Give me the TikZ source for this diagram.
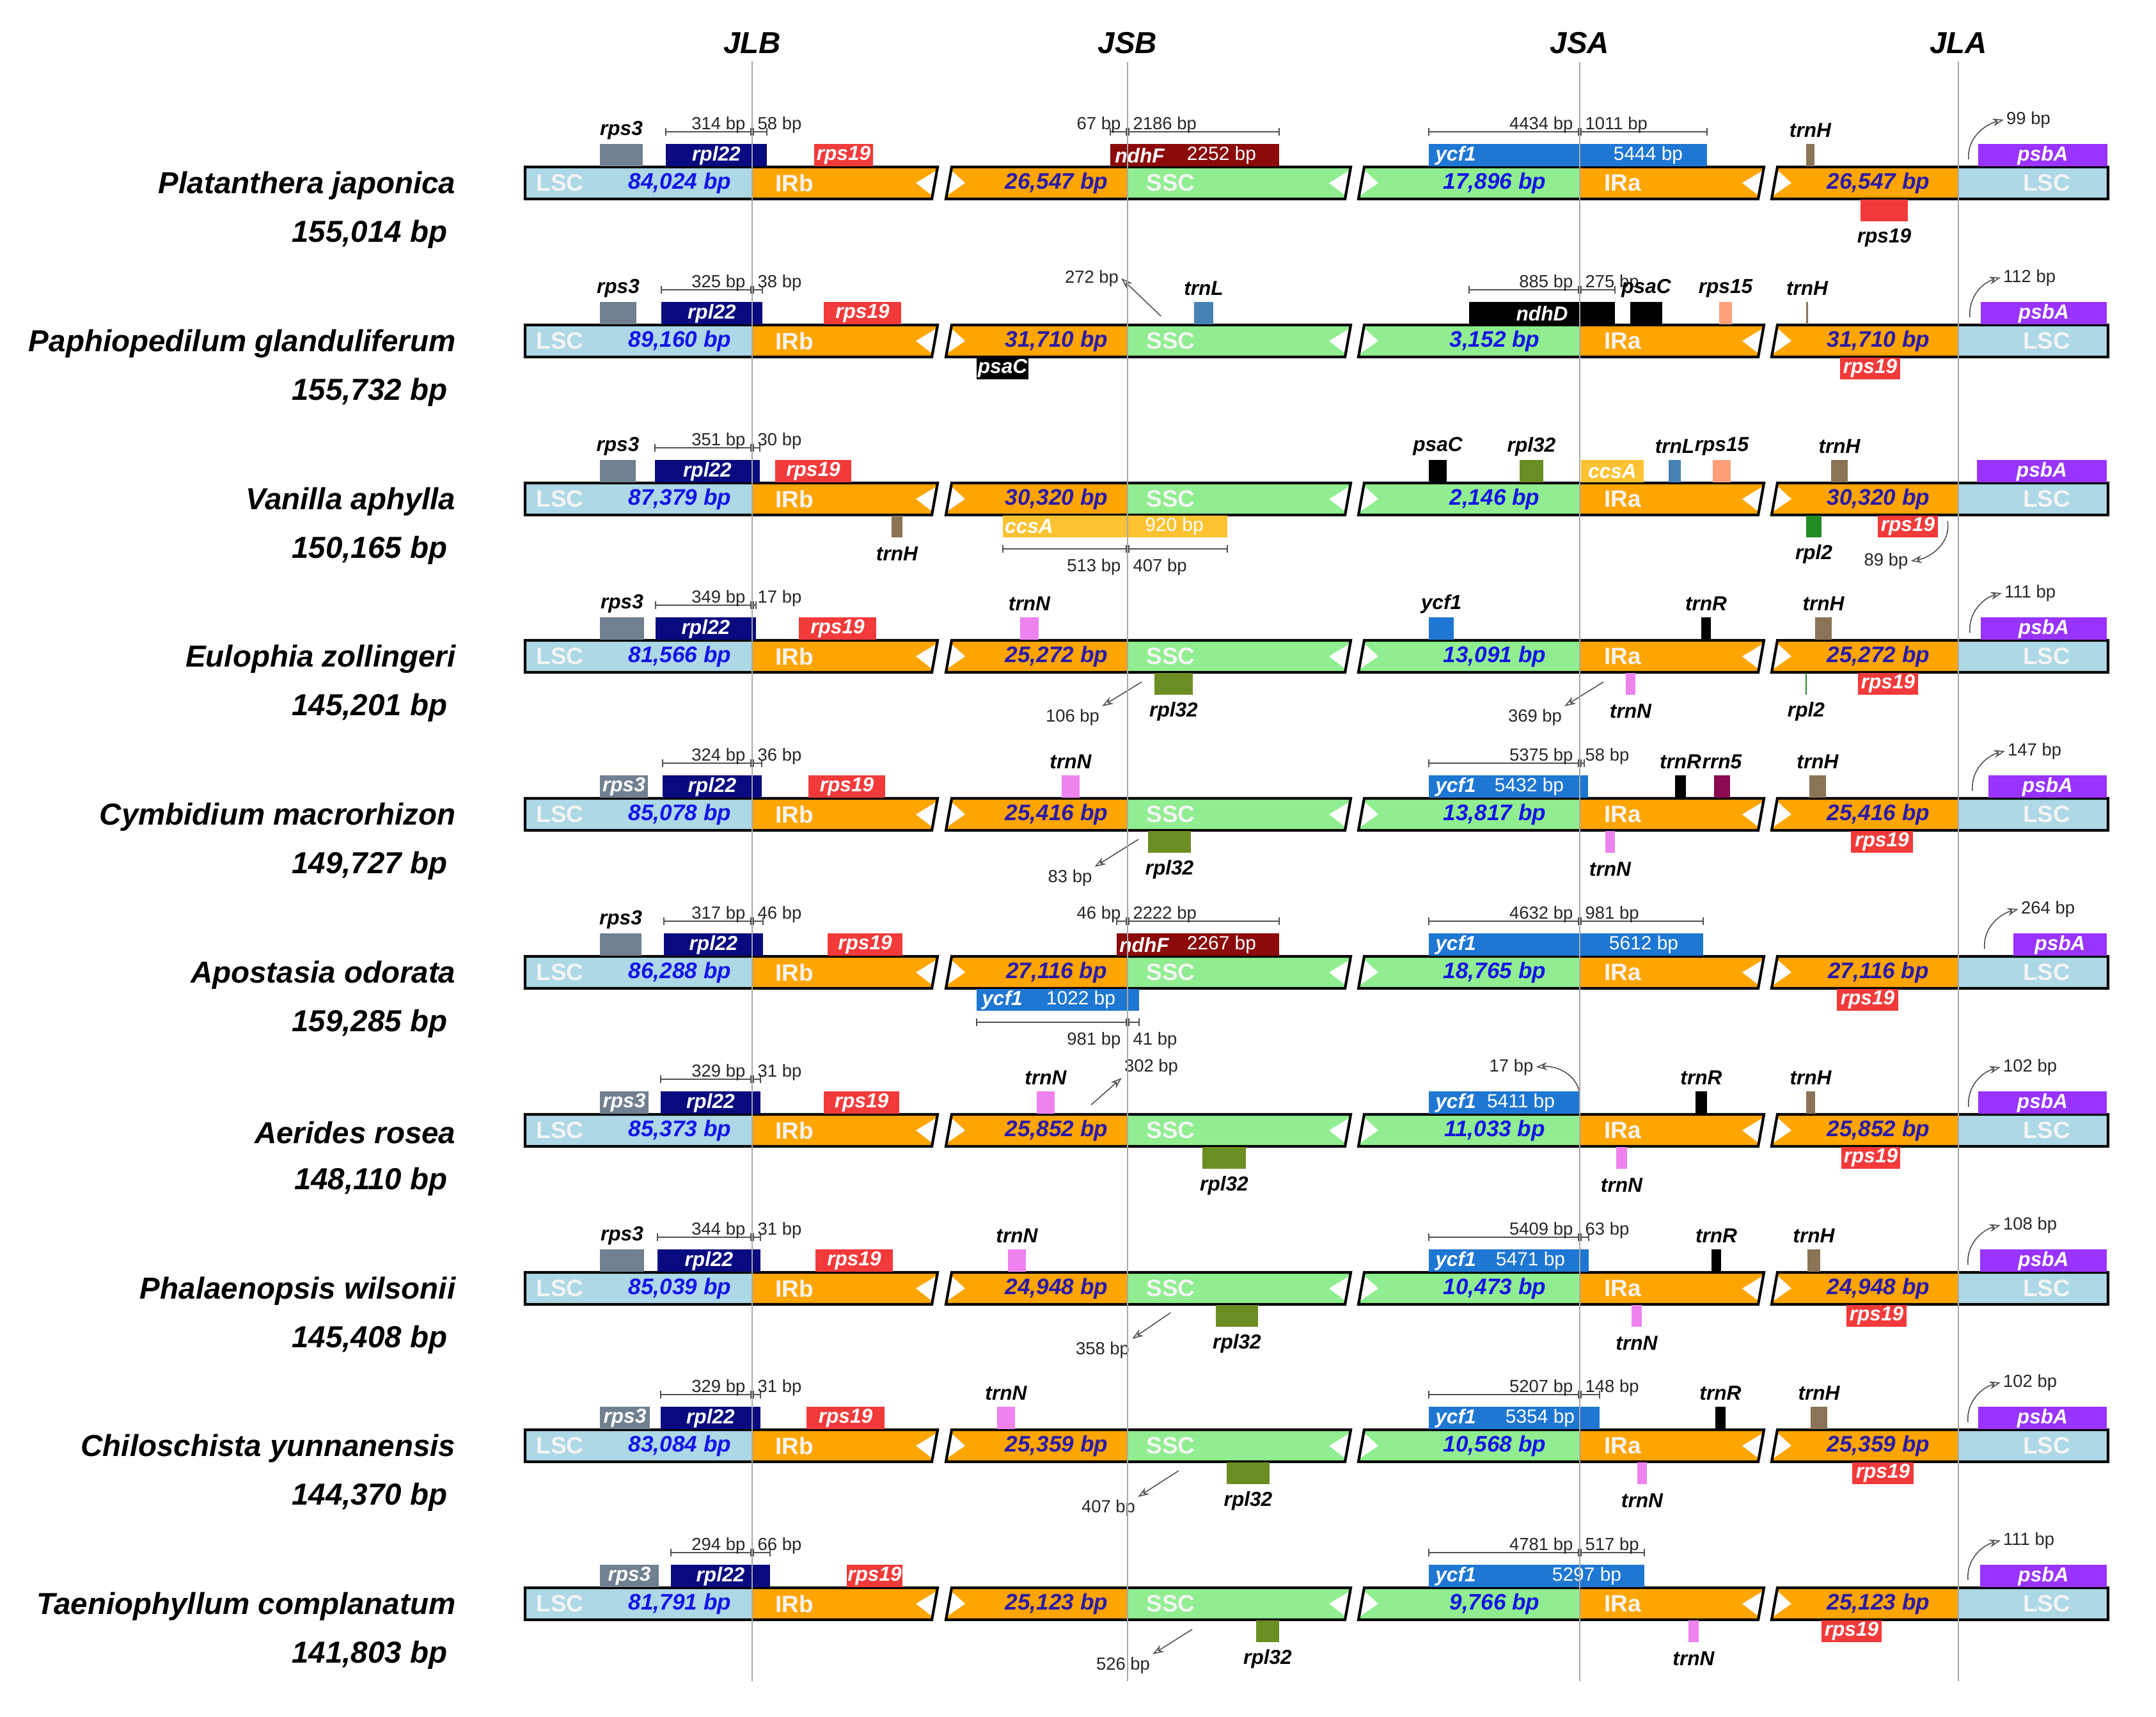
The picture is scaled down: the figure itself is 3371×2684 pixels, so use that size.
\documentclass[tikz,border=0pt]{standalone}
\usepackage{fontspec}
\setmainfont{Liberation Sans}
\usetikzlibrary{arrows.meta}

\definecolor{lscblue}{HTML}{ADD8E6}
\definecolor{irorange}{HTML}{FFA500}
\definecolor{sscgreen}{HTML}{90EE90}
\definecolor{bpblue}{HTML}{1414E6}
\definecolor{bpdark}{HTML}{2A1AA8}
\definecolor{regtext}{HTML}{F4F4F4}
\definecolor{guide}{HTML}{A8A8A8}
\definecolor{rpsthree}{HTML}{708090}
\definecolor{rpltt}{HTML}{0A0A80}
\definecolor{rpsnt}{HTML}{F23A3A}
\definecolor{ndhf}{HTML}{8B0A0A}
\definecolor{ycfone}{HTML}{1E77D3}
\definecolor{psba}{HTML}{9933FF}
\definecolor{trnh}{HTML}{8B7355}
\definecolor{trnl}{HTML}{4682B4}
\definecolor{rpsff}{HTML}{FFA07A}
\definecolor{ccsa}{HTML}{FCC232}
\definecolor{rplttwo}{HTML}{6B8E23}
\definecolor{rpltwo}{HTML}{228B22}
\definecolor{trnn}{HTML}{EE82EE}
\definecolor{rrnfive}{HTML}{8B0A50}
\definecolor{measure}{HTML}{505050}

\tikzset{
  regname/.style={font=\bfseries\fontsize{10.5}{12}\selectfont, text=regtext, inner sep=0pt},
  bplen/.style={font=\bfseries\itshape\fontsize{10}{12}\selectfont, inner sep=0pt},
  genelbl/.style={font=\bfseries\itshape\fontsize{9}{10}\selectfont, inner sep=0pt},
  geneinner/.style={genelbl, text=white},
  sizelbl/.style={font=\fontsize{7.8}{9}\selectfont, text=black!85, inner sep=0pt},
  ptrlbl/.style={sizelbl, inner sep=1pt},
  boxbp/.style={font=\fontsize{8.5}{10}\selectfont, text=white, inner sep=0pt},
  species/.style={font=\bfseries\itshape\fontsize{13.5}{16}\selectfont, anchor=east, inner sep=0pt},
  junction/.style={species, anchor=center},
  guideline/.style={guide, line width=0.6pt, shorten <=0.12cm},
  dimline/.style={measure, line width=0.45pt},
  pointer/.style={measure, line width=0.45pt, -{Stealth[open,length=5pt,width=3.5pt]}},
  outline/.style={draw=black, line width=1.2pt}
}

\newcommand{\orchidrow}[7]{%
  \fill[lscblue] (821,#2-25) rectangle (1176,#2+25);
  \fill[irorange] (1176,#2-25) -- (1466,#2-25) -- (1457,#2+25) -- (1176,#2+25) -- cycle;
  \fill[irorange] (1488,#2-25) -- (1763,#2-25) -- (1763,#2+25) -- (1479,#2+25) -- cycle;
  \fill[sscgreen] (1763,#2-25) -- (2112,#2-25) -- (2103,#2+25) -- (1763,#2+25) -- cycle;
  \fill[sscgreen] (2133,#2-25) -- (2470,#2-25) -- (2470,#2+25) -- (2124,#2+25) -- cycle;
  \fill[irorange] (2470,#2-25) -- (2758,#2-25) -- (2749,#2+25) -- (2470,#2+25) -- cycle;
  \fill[irorange] (2779,#2-25) -- (3062,#2-25) -- (3062,#2+25) -- (2770,#2+25) -- cycle;
  \fill[lscblue] (3062,#2-25) rectangle (3296,#2+25);
  \foreach \bx in {1466,2112,2758} {
    \fill[white] (\bx-34,#2) -- (\bx-1,#2-20) -- (\bx-8,#2+20) -- cycle;
    \fill[white] (\bx+43,#2) -- (\bx+21,#2-20) -- (\bx+14,#2+20) -- cycle;
  }
  \draw[outline] (821,#2-25) -- (1466,#2-25) -- (1457,#2+25) -- (821,#2+25) -- cycle;
  \draw[outline] (1488,#2-25) -- (2112,#2-25) -- (2103,#2+25) -- (1479,#2+25) -- cycle;
  \draw[outline] (2133,#2-25) -- (2758,#2-25) -- (2749,#2+25) -- (2124,#2+25) -- cycle;
  \draw[outline] (2779,#2-25) -- (3296,#2-25) -- (3296,#2+25) -- (2770,#2+25) -- cycle;
  \node[regname, anchor=west] (#1-lsc) at (838,#2) {LSC};
  \node[bplen, text=bpblue] (#1-lsclen) at (1063,#2) {#5 bp};
  \node[regname, anchor=west] (#1-irb) at (1212,#2) {IRb};
  \node[bplen, text=bpdark] (#1-irblen) at (1652,#2) {#6 bp};
  \node[regname, anchor=west] (#1-ssc) at (1792,#2) {SSC};
  \node[bplen, text=bpblue] (#1-ssclen) at (2337,#2) {#7 bp};
  \node[regname, anchor=west] (#1-ira) at (2508,#2) {IRa};
  \node[bplen, text=bpdark] (#1-iralen) at (2937,#2) {#6 bp};
  \node[regname] (#1-lscb) at (3200,#2) {LSC};
  \node[species] (#1-name) at (713,#2+4) {#3};
  \node[species] (#1-size) at (700,#2+80) {#4 bp};
}

\newcommand{\geneup}[6]{%
  \fill[#5] (#3,#2-61) rectangle (#4,#2-26);
  \node[genelbl] (#1) at ({(#3+#4)/2},#2-82) {#6};}
\newcommand{\geneupin}[6]{%
  \fill[#5] (#3,#2-61) rectangle (#4,#2-26);
  \node[geneinner] (#1) at ({(#3+#4)/2},#2-43) {#6};}
\newcommand{\genedown}[6]{%
  \fill[#5] (#3,#2+26) rectangle (#4,#2+60);
  \node[genelbl] (#1) at ({(#3+#4)/2},#2+86) {#6};}
\newcommand{\genedownin}[6]{%
  \fill[#5] (#3,#2+26) rectangle (#4,#2+60);
  \node[geneinner] (#1) at ({(#3+#4)/2},#2+43) {#6};}
\newcommand{\genelongup}[9]{%
  \fill[#5] (#3,#2-61) rectangle (#4,#2-26);
  \node[geneinner] (#1) at (#7,#2-43) {#6};
  \node[boxbp] (#1-bp) at (#9,#2-43) {#8};}
\newcommand{\genelongdown}[9]{%
  \fill[#5] (#3,#2+26) rectangle (#4,#2+60);
  \node[geneinner] (#1) at (#7,#2+43) {#6};
  \node[boxbp] (#1-bp) at (#9,#2+43) {#8};}

\newcommand{\bpmarkup}[7]{%
  \draw[dimline] (#3,#2-80) -- (#4,#2-80);
  \draw[dimline] (#3,#2-86) -- (#3,#2-74) (#4,#2-86) -- (#4,#2-74)
    (#5-2,#2-86) -- (#5-2,#2-74) (#5+2,#2-86) -- (#5+2,#2-74);
  \node[sizelbl, anchor=base east] (#1-left) at (#5-10,#2-84) {#6};
  \node[sizelbl, anchor=base west] (#1-right) at (#5+8,#2-84) {#7};}
\newcommand{\bpmarkdown}[7]{%
  \draw[dimline] (#3,#2+78) -- (#4,#2+78);
  \draw[dimline] (#3,#2+72) -- (#3,#2+84) (#4,#2+72) -- (#4,#2+84)
    (#5-2,#2+72) -- (#5-2,#2+84) (#5+2,#2+72) -- (#5+2,#2+84);
  \node[sizelbl, anchor=base east] (#1-left) at (#5-10,#2+113) {#6};
  \node[sizelbl, anchor=base west] (#1-right) at (#5+8,#2+113) {#7};}

\newcommand{\psbaarrow}[5]{%
  \coordinate (#1-psbafrom) at (#3,#2-37);
  \node[ptrlbl, anchor=west] (#1-psbabp) at (#4,#2-99) {#5};
  \draw[pointer] (#1-psbafrom) to[out=95,in=195] (#1-psbabp.west);}

\begin{document}
\begin{tikzpicture}[x=0.01cm,y=-0.01cm]
\useasboundingbox (0,0) rectangle (3371,2684);

\orchidrow{r1}{286}{Platanthera japonica}{155,014}{84,024}{26,547}{17,896}
\geneup{r1-rps3}{286}{938}{1005}{rpsthree}{rps3}
\geneupin{r1-rpl22}{286}{1041}{1199}{rpltt}{rpl22}
\bpmarkup{r1-m1}{286}{1041}{1199}{1176}{314 bp}{58 bp}
\geneupin{r1-rps19a}{286}{1273}{1365}{rpsnt}{rps19}
\genelongup{r1-ndhf}{286}{1736}{2000}{ndhf}{ndhF}{1782}{2252 bp}{1910}
\bpmarkup{r1-m2}{286}{1736}{2000}{1763}{67 bp}{2186 bp}
\genelongup{r1-ycf1}{286}{2234}{2669}{ycfone}{ycf1}{2276}{5444 bp}{2577}
\bpmarkup{r1-m3}{286}{2234}{2669}{2470}{4434 bp}{1011 bp}
\geneup{r1-trnh}{286}{2824}{2837}{trnh}{trnH}
\genedown{r1-rps19b}{286}{2909}{2983}{rpsnt}{rps19}
\geneupin{r1-psba}{286}{3093}{3295}{psba}{psbA}
\psbaarrow{r1}{286}{3078}{3133}{99 bp}

\orchidrow{r2}{533}{Paphiopedilum glanduliferum}{155,732}{89,160}{31,710}{3,152}
\geneup{r2-rps3}{533}{938}{995}{rpsthree}{rps3}
\geneupin{r2-rpl22}{533}{1034}{1192}{rpltt}{rpl22}
\bpmarkup{r2-m1}{533}{1034}{1192}{1176}{325 bp}{38 bp}
\geneupin{r2-rps19a}{533}{1288}{1409}{rpsnt}{rps19}
\genedownin{r2-psaca}{533}{1527}{1608}{black}{psaC}
\coordinate (r2-from272) at (1815,494);
\node[ptrlbl] (r2-bp272) at (1707,435) {272 bp};
\draw[pointer] (r2-from272) -- (r2-bp272.east);
\geneup{r2-trnl}{533}{1867}{1897}{trnl}{trnL}
\geneupin{r2-ndhd}{533}{2297}{2525}{black}{ndhD}
\bpmarkup{r2-m2}{533}{2297}{2525}{2470}{885 bp}{275 bp}
\geneup{r2-psacb}{533}{2549}{2599}{black}{psaC}
\geneup{r2-rps15}{533}{2688}{2708}{rpsff}{rps15}
\geneup{r2-trnh}{533}{2824}{2827}{trnh}{trnH}
\genedownin{r2-rps19b}{533}{2877}{2971}{rpsnt}{rps19}
\geneupin{r2-psba}{533}{3097}{3294}{psba}{psbA}
\psbaarrow{r2}{533}{3080}{3128}{112 bp}

\orchidrow{r3}{780}{Vanilla aphylla}{150,165}{87,379}{30,320}{2,146}
\geneup{r3-rps3}{780}{938}{994}{rpsthree}{rps3}
\geneupin{r3-rpl22}{780}{1024}{1188}{rpltt}{rpl22}
\bpmarkup{r3-m1}{780}{1024}{1188}{1176}{351 bp}{30 bp}
\geneupin{r3-rps19a}{780}{1212}{1331}{rpsnt}{rps19}
\genedown{r3-trnha}{780}{1394}{1411}{trnh}{trnH}
\genelongdown{r3-ccsaa}{780}{1568}{1919}{ccsa}{ccsA}{1609}{920 bp}{1836}
\bpmarkdown{r3-m2}{780}{1568}{1919}{1763}{513 bp}{407 bp}
\geneup{r3-psac}{780}{2234}{2262}{black}{psaC}
\geneup{r3-rpl32}{780}{2376}{2413}{rplttwo}{rpl32}
\geneupin{r3-ccsab}{780}{2472}{2570}{ccsa}{ccsA}
\geneup{r3-trnl}{780}{2609}{2628}{trnl}{trnL}
\geneup{r3-rps15}{780}{2678}{2706}{rpsff}{rps15}
\geneup{r3-trnhb}{780}{2863}{2889}{trnh}{trnH}
\genedown{r3-rpl2}{780}{2824}{2848}{rpltwo}{rpl2}
\genedownin{r3-rps19b}{780}{2936}{3030}{rpsnt}{rps19}
\coordinate (r3-from89) at (3045,815);
\node[ptrlbl] (r3-bp89) at (2949,877) {89 bp};
\draw[pointer] (r3-from89) to[out=-80,in=10] (r3-bp89.east);
\geneupin{r3-psba}{780}{3091}{3294}{psba}{psbA}

\orchidrow{r4}{1026}{Eulophia zollingeri}{145,201}{81,566}{25,272}{13,091}
\geneup{r4-rps3}{1026}{938}{1007}{rpsthree}{rps3}
\geneupin{r4-rpl22}{1026}{1025}{1182}{rpltt}{rpl22}
\bpmarkup{r4-m1}{1026}{1025}{1182}{1176}{349 bp}{17 bp}
\geneupin{r4-rps19a}{1026}{1249}{1370}{rpsnt}{rps19}
\geneup{r4-trnna}{1026}{1595}{1624}{trnn}{trnN}
\genedown{r4-rpl32}{1026}{1805}{1865}{rplttwo}{rpl32}
\coordinate (r4-from106) at (1785,1066);
\node[ptrlbl] (r4-bp106) at (1677,1121) {106 bp};
\draw[pointer] (r4-from106) -- (r4-bp106.north east);
\geneup{r4-ycf1}{1026}{2234}{2273}{ycfone}{ycf1}
\geneup{r4-trnr}{1026}{2660}{2675}{black}{trnR}
\geneup{r4-trnh}{1026}{2838}{2864}{trnh}{trnH}
\genedown{r4-trnnb}{1026}{2542}{2557}{trnn}{trnN}
\coordinate (r4-from369) at (2507,1066);
\node[ptrlbl] (r4-bp369) at (2400,1121) {369 bp};
\draw[pointer] (r4-from369) -- (r4-bp369.north east);
\genedown{r4-rpl2}{1026}{2823}{2825}{rpltwo}{rpl2}
\genedownin{r4-rps19b}{1026}{2905}{2999}{rpsnt}{rps19}
\geneupin{r4-psba}{1026}{3097}{3294}{psba}{psbA}
\psbaarrow{r4}{1026}{3080}{3130}{111 bp}

\orchidrow{r5}{1273}{Cymbidium macrorhizon}{149,727}{85,078}{25,416}{13,817}
\geneupin{r5-rps3}{1273}{938}{1013}{rpsthree}{rps3}
\geneupin{r5-rpl22}{1273}{1036}{1191}{rpltt}{rpl22}
\bpmarkup{r5-m1}{1273}{1036}{1191}{1176}{324 bp}{36 bp}
\geneupin{r5-rps19a}{1273}{1264}{1384}{rpsnt}{rps19}
\geneup{r5-trnna}{1273}{1660}{1688}{trnn}{trnN}
\genedown{r5-rpl32}{1273}{1795}{1862}{rplttwo}{rpl32}
\coordinate (r5-from83) at (1780,1312);
\node[ptrlbl] (r5-bp83) at (1673,1372) {83 bp};
\draw[pointer] (r5-from83) -- (r5-bp83.north east);
\genelongup{r5-ycf1}{1273}{2234}{2483}{ycfone}{ycf1}{2276}{5432 bp}{2391}
\bpmarkup{r5-m2}{1273}{2234}{2477}{2470}{5375 bp}{58 bp}
\geneup{r5-trnr}{1273}{2619}{2636}{black}{trnR}
\geneup{r5-rrn5}{1273}{2680}{2705}{rrnfive}{rrn5}
\geneup{r5-trnh}{1273}{2829}{2855}{trnh}{trnH}
\genedown{r5-trnnb}{1273}{2510}{2525}{trnn}{trnN}
\genedownin{r5-rps19b}{1273}{2894}{2991}{rpsnt}{rps19}
\geneupin{r5-psba}{1273}{3109}{3294}{psba}{psbA}
\psbaarrow{r5}{1273}{3084}{3135}{147 bp}

\orchidrow{r6}{1520}{Apostasia odorata}{159,285}{86,288}{27,116}{18,765}
\geneup{r6-rps3}{1520}{938}{1003}{rpsthree}{rps3}
\geneupin{r6-rpl22}{1520}{1038}{1193}{rpltt}{rpl22}
\bpmarkup{r6-m1}{1520}{1038}{1193}{1176}{317 bp}{46 bp}
\geneupin{r6-rps19a}{1520}{1294}{1411}{rpsnt}{rps19}
\genelongup{r6-ndhf}{1520}{1746}{2000}{ndhf}{ndhF}{1789}{2267 bp}{1910}
\bpmarkup{r6-m2}{1520}{1746}{2000}{1763}{46 bp}{2222 bp}
\genelongdown{r6-ycf1a}{1520}{1527}{1781}{ycfone}{ycf1}{1567}{1022 bp}{1690}
\bpmarkdown{r6-m3}{1520}{1527}{1781}{1763}{981 bp}{41 bp}
\genelongup{r6-ycf1b}{1520}{2234}{2663}{ycfone}{ycf1}{2276}{5612 bp}{2570}
\bpmarkup{r6-m4}{1520}{2234}{2663}{2470}{4632 bp}{981 bp}
\genedownin{r6-rps19b}{1520}{2872}{2968}{rpsnt}{rps19}
\geneupin{r6-psba}{1520}{3148}{3294}{psba}{psbA}
\psbaarrow{r6}{1520}{3103}{3156}{264 bp}

\orchidrow{r7}{1767}{Aerides rosea}{148,110}{85,373}{25,852}{11,033}
\geneupin{r7-rps3}{1767}{938}{1014}{rpsthree}{rps3}
\geneupin{r7-rpl22}{1767}{1033}{1189}{rpltt}{rpl22}
\bpmarkup{r7-m1}{1767}{1033}{1189}{1176}{329 bp}{31 bp}
\geneupin{r7-rps19a}{1767}{1288}{1406}{rpsnt}{rps19}
\geneup{r7-trnna}{1767}{1621}{1649}{trnn}{trnN}
\coordinate (r7-from302) at (1706,1727);
\node[ptrlbl] (r7-bp302) at (1800,1668) {302 bp};
\draw[pointer] (r7-from302) -- (r7-bp302.south west);
\genedown{r7-rpl32}{1767}{1880}{1948}{rplttwo}{rpl32}
\genelongup{r7-ycf1}{1767}{2234}{2470}{ycfone}{ycf1}{2276}{5411 bp}{2378}
\coordinate (r7-from17) at (2470,1709);
\node[ptrlbl] (r7-bp17) at (2363,1668) {17 bp};
\draw[pointer] (r7-from17) to[out=100,in=5] (r7-bp17.east);
\geneup{r7-trnr}{1767}{2651}{2669}{black}{trnR}
\geneup{r7-trnh}{1767}{2824}{2838}{trnh}{trnH}
\genedown{r7-trnnb}{1767}{2527}{2544}{trnn}{trnN}
\genedownin{r7-rps19b}{1767}{2879}{2971}{rpsnt}{rps19}
\geneupin{r7-psba}{1767}{3093}{3294}{psba}{psbA}
\psbaarrow{r7}{1767}{3078}{3128}{102 bp}

\orchidrow{r8}{2014}{Phalaenopsis wilsonii}{145,408}{85,039}{24,948}{10,473}
\geneup{r8-rps3}{2014}{938}{1007}{rpsthree}{rps3}
\geneupin{r8-rpl22}{2014}{1028}{1189}{rpltt}{rpl22}
\bpmarkup{r8-m1}{2014}{1028}{1189}{1176}{344 bp}{31 bp}
\geneupin{r8-rps19a}{2014}{1275}{1396}{rpsnt}{rps19}
\geneup{r8-trnna}{2014}{1576}{1604}{trnn}{trnN}
\genedown{r8-rpl32}{2014}{1901}{1967}{rplttwo}{rpl32}
\coordinate (r8-from358) at (1830,2052);
\node[ptrlbl] (r8-bp358) at (1724,2110) {358 bp};
\draw[pointer] (r8-from358) -- (r8-bp358.north east);
\genelongup{r8-ycf1}{2014}{2234}{2484}{ycfone}{ycf1}{2276}{5471 bp}{2393}
\bpmarkup{r8-m2}{2014}{2234}{2484}{2470}{5409 bp}{63 bp}
\geneup{r8-trnr}{2014}{2676}{2691}{black}{trnR}
\geneup{r8-trnh}{2014}{2826}{2846}{trnh}{trnH}
\genedown{r8-trnnb}{2014}{2551}{2567}{trnn}{trnN}
\genedownin{r8-rps19b}{2014}{2887}{2981}{rpsnt}{rps19}
\geneupin{r8-psba}{2014}{3096}{3294}{psba}{psbA}
\psbaarrow{r8}{2014}{3077}{3128}{108 bp}

\orchidrow{r9}{2260}{Chiloschista yunnanensis}{144,370}{83,084}{25,359}{10,568}
\geneupin{r9-rps3}{2260}{938}{1016}{rpsthree}{rps3}
\geneupin{r9-rpl22}{2260}{1033}{1189}{rpltt}{rpl22}
\bpmarkup{r9-m1}{2260}{1033}{1189}{1176}{329 bp}{31 bp}
\geneupin{r9-rps19a}{2260}{1261}{1383}{rpsnt}{rps19}
\geneup{r9-trnna}{2260}{1559}{1587}{trnn}{trnN}
\genedown{r9-rpl32}{2260}{1918}{1985}{rplttwo}{rpl32}
\coordinate (r9-from407) at (1843,2299);
\node[ptrlbl] (r9-bp407) at (1733,2357) {407 bp};
\draw[pointer] (r9-from407) -- (r9-bp407.north east);
\genelongup{r9-ycf1}{2260}{2234}{2501}{ycfone}{ycf1}{2276}{5354 bp}{2408}
\bpmarkup{r9-m2}{2260}{2234}{2501}{2470}{5207 bp}{148 bp}
\geneup{r9-trnr}{2260}{2682}{2698}{black}{trnR}
\geneup{r9-trnh}{2260}{2831}{2857}{trnh}{trnH}
\genedown{r9-trnnb}{2260}{2560}{2575}{trnn}{trnN}
\genedownin{r9-rps19b}{2260}{2896}{2992}{rpsnt}{rps19}
\geneupin{r9-psba}{2260}{3093}{3294}{psba}{psbA}
\psbaarrow{r9}{2260}{3077}{3128}{102 bp}

\orchidrow{r10}{2507}{Taeniophyllum complanatum}{141,803}{81,791}{25,123}{9,766}
\geneupin{r10-rps3}{2507}{938}{1030}{rpsthree}{rps3}
\geneupin{r10-rpl22}{2507}{1049}{1204}{rpltt}{rpl22}
\bpmarkup{r10-m1}{2507}{1049}{1204}{1176}{294 bp}{66 bp}
\geneupin{r10-rps19a}{2507}{1324}{1411}{rpsnt}{rps19}
\genedown{r10-rpl32}{2507}{1964}{2000}{rplttwo}{rpl32}
\coordinate (r10-from526) at (1864,2547);
\node[ptrlbl] (r10-bp526) at (1756,2603) {526 bp};
\draw[pointer] (r10-from526) -- (r10-bp526.north east);
\genelongup{r10-ycf1}{2507}{2234}{2571}{ycfone}{ycf1}{2276}{5297 bp}{2481}
\bpmarkup{r10-m2}{2507}{2234}{2571}{2470}{4781 bp}{517 bp}
\genedown{r10-trnn}{2507}{2640}{2656}{trnn}{trnN}
\genedownin{r10-rps19b}{2507}{2848}{2942}{rpsnt}{rps19}
\geneupin{r10-psba}{2507}{3096}{3294}{psba}{psbA}
\psbaarrow{r10}{2507}{3077}{3128}{111 bp}

\foreach \jx/\jn/\jt in {1176/jlb/JLB, 1763/jsb/JSB, 2470/jsa/JSA, 3062/jla/JLA} {
  \node[junction] (\jn) at (\jx,67) {\jt};
  \coordinate (\jn-end) at (\jx,2628);
  \draw[guideline] (\jn) -- (\jn-end);
}
\end{tikzpicture}
\end{document}
